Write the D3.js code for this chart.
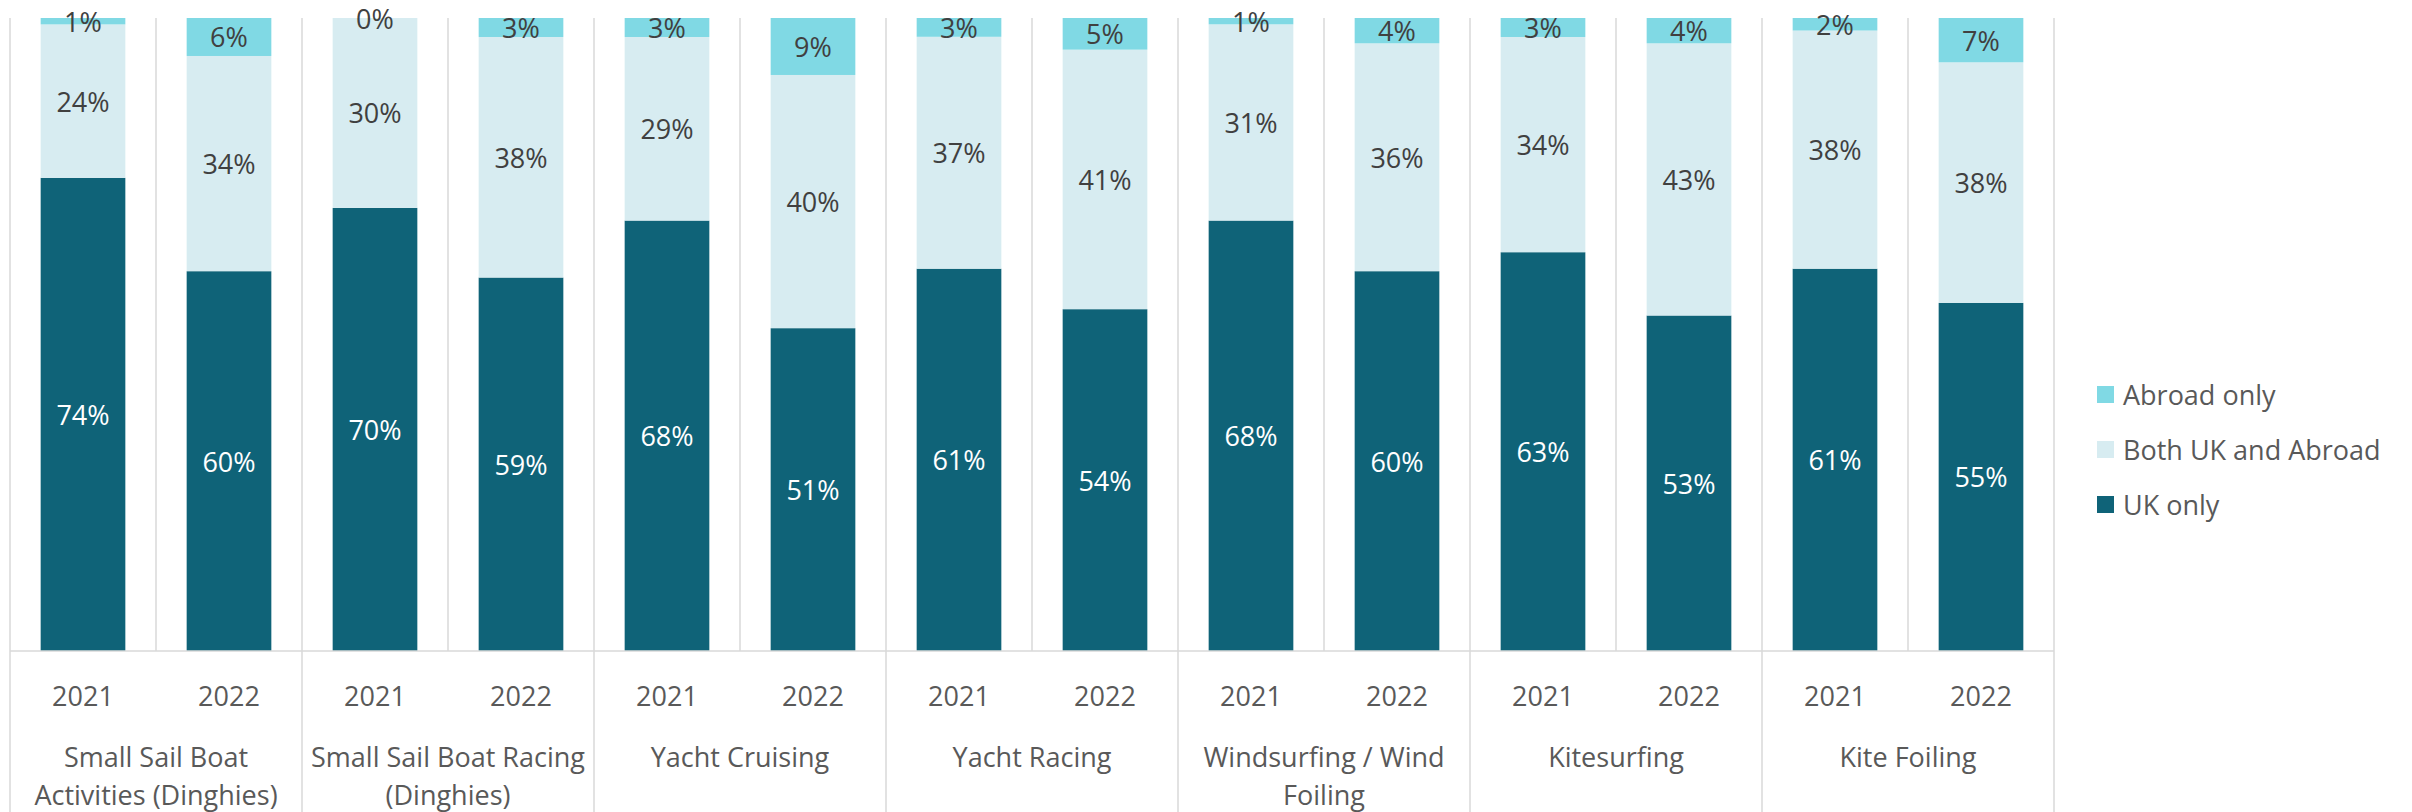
<!DOCTYPE html>
<html>
<head>
<meta charset="utf-8">
<script src="https://cdn.jsdelivr.net/npm/d3@7"></script>
<style>
  body { margin: 0; background: #fff; }
  svg { display: block; font-family: "Open Sans", "Noto Sans", sans-serif; }
</style>
</head>
<body>
<div id="chart"></div>
<script>
// activity groups, each with a 2021 and 2022 bar
let groups = [
  ['Small Sail Boat', 'Activities (Dinghies)'],
  ['Small Sail Boat Racing', '(Dinghies)'],
  ['Yacht Cruising'],
  ['Yacht Racing'],
  ['Windsurfing / Wind', 'Foiling'],
  ['Kitesurfing'],
  ['Kite Foiling']
];
let years = ['2021', '2022'];

// one value per bar, in order group by group, 2021 then 2022
let ukOnly = [74, 60, 70, 59, 68, 51, 61, 54, 68, 60, 63, 53, 61, 55];
let bothUkAbroad = [24, 34, 30, 38, 29, 40, 37, 41, 31, 36, 34, 43, 38, 38];
let abroadOnly = [1, 6, 0, 3, 3, 9, 3, 5, 1, 4, 3, 4, 2, 7];

let seriesNames = ['UK only', 'Both UK and Abroad', 'Abroad only'];
let colors = ['#0f6378', '#d7ecf1', '#80d9e4'];
let labelColors = ['#ffffff', '#404040', '#404040'];

let width = 2412,
  height = 812;
let plotLeft = 10,
  plotRight = 2054,
  plotTop = 18,
  plotBottom = 651;
let fontSize = 27;

// table for d3.stack
let rows = [];
groups.forEach(function (g, gi) {
  years.forEach(function (y, yi) {
    let i = gi * 2 + yi;
    rows.push({
      key: gi + '-' + y,
      group: gi,
      year: y,
      'UK only': ukOnly[i],
      'Both UK and Abroad': bothUkAbroad[i],
      'Abroad only': abroadOnly[i]
    });
  });
});

let svg = d3
  .select('#chart')
  .append('svg')
  .attr('width', width)
  .attr('height', height);

let x = d3
  .scaleBand()
  .domain(rows.map(function (d) { return d.key; }))
  .range([plotLeft, plotRight])
  .paddingInner(0.42)
  .paddingOuter(0.21);

let y = d3.scaleLinear().domain([0, 1]).range([plotBottom, plotTop]);

let step = x.step();
let edge = function (i) { return plotLeft + i * step; };

// vertical separators between bars in the plot
svg
  .append('g')
  .selectAll('line')
  .data(d3.range(rows.length + 1))
  .enter()
  .append('line')
  .attr('x1', edge)
  .attr('x2', edge)
  .attr('y1', plotTop)
  .attr('y2', function (i) { return i % 2 === 0 ? height : plotBottom; })
  .attr('stroke', '#d9d9d9')
  .attr('stroke-width', 1.5);

let stack = d3.stack().keys(seriesNames).offset(d3.stackOffsetExpand);
let stacked = stack(rows);

let layers = svg
  .append('g')
  .selectAll('g')
  .data(stacked)
  .enter()
  .append('g')
  .attr('fill', function (d, i) { return colors[i]; });

layers
  .selectAll('rect')
  .data(function (d) { return d; })
  .enter()
  .append('rect')
  .attr('x', function (d) { return x(d.data.key); })
  .attr('y', function (d) { return y(d[1]); })
  .attr('width', x.bandwidth())
  .attr('height', function (d) { return y(d[0]) - y(d[1]); });

// value labels in the middle of each segment
stacked.forEach(function (s, si) {
  svg
    .append('g')
    .selectAll('text')
    .data(s)
    .enter()
    .append('text')
    .attr('x', function (d) { return x(d.data.key) + x.bandwidth() / 2; })
    .attr('y', function (d) { return y((d[0] + d[1]) / 2); })
    .attr('text-anchor', 'middle')
    .attr('dominant-baseline', 'central')
    .attr('font-size', fontSize)
    .attr('fill', labelColors[si])
    .text(function (d) { return d.data[s.key] + '%'; });
});

// axis line
svg
  .append('line')
  .attr('x1', plotLeft)
  .attr('x2', plotRight)
  .attr('y1', plotBottom)
  .attr('y2', plotBottom)
  .attr('stroke', '#d9d9d9')
  .attr('stroke-width', 1.5);

// year labels
svg
  .append('g')
  .selectAll('text')
  .data(rows)
  .enter()
  .append('text')
  .attr('x', function (d) { return x(d.key) + x.bandwidth() / 2; })
  .attr('y', 695)
  .attr('text-anchor', 'middle')
  .attr('dominant-baseline', 'central')
  .attr('font-size', fontSize)
  .attr('fill', '#595959')
  .text(function (d) { return d.year; });

// group labels, up to two lines
let groupText = svg
  .append('g')
  .selectAll('text')
  .data(groups)
  .enter()
  .append('text')
  .attr('text-anchor', 'middle')
  .attr('font-size', fontSize)
  .attr('fill', '#595959');

groupText
  .selectAll('tspan')
  .data(function (d, gi) {
    return d.map(function (line, li) { return { line: line, gi: gi, li: li }; });
  })
  .enter()
  .append('tspan')
  .attr('x', function (d) { return edge(d.gi * 2 + 1); })
  .attr('y', function (d) { return 756 + d.li * 38; })
  .attr('dominant-baseline', 'central')
  .text(function (d) { return d.line; });

// legend, top entry is the top segment
let legend = svg
  .append('g')
  .selectAll('g')
  .data(seriesNames.slice().reverse())
  .enter()
  .append('g')
  .attr('transform', function (d, i) { return 'translate(2097,' + (394 + i * 55) + ')'; });

legend
  .append('rect')
  .attr('x', 0)
  .attr('y', -8)
  .attr('width', 17)
  .attr('height', 17)
  .attr('fill', function (d) { return colors[seriesNames.indexOf(d)]; });

legend
  .append('text')
  .attr('x', 26)
  .attr('y', 0)
  .attr('dominant-baseline', 'central')
  .attr('font-size', fontSize)
  .attr('fill', '#595959')
  .text(function (d) { return d; });
</script>
</body>
</html>
